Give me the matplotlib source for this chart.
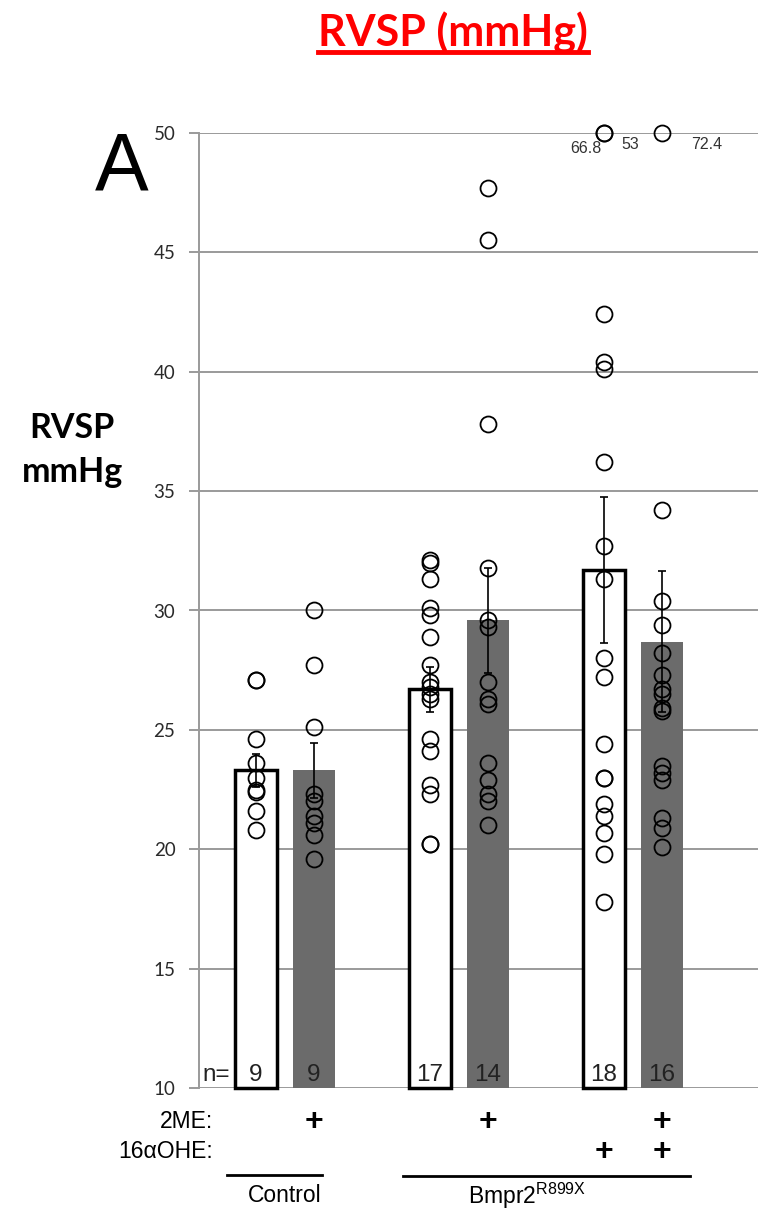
import matplotlib
matplotlib.use("Agg")
import matplotlib.pyplot as plt
from matplotlib.lines import Line2D

# ==== data ====
groups = ["Control", "Control+2ME", "Bmpr2", "Bmpr2+2ME", "Bmpr2+16aOHE", "Bmpr2+2ME+16aOHE"]
x_pos = [0, 1, 3, 4, 6, 7]
means = [23.3, 23.3, 26.7, 29.6, 31.7, 28.7]
sems = [0.7, 1.15, 0.95, 2.2, 3.05, 2.95]
n_counts = [9, 9, 17, 14, 18, 16]
filled = [False, True, False, True, False, True]

pts_ctrl = [27.1, 27.1, 24.6, 23.6, 23.0, 22.5, 22.4, 21.6, 20.8]
pts_ctrl_2me = [30.0, 27.7, 25.1, 22.3, 22.0, 21.4, 21.1, 20.6, 19.6]
pts_bmpr2 = [32.1, 32.0, 31.3, 30.1, 29.8, 28.9, 27.7, 27.0, 26.8, 26.5, 26.3,
             24.6, 24.1, 22.7, 22.3, 20.2, 20.2]
pts_bmpr2_2me = [47.7, 45.5, 37.8, 31.8, 29.6, 29.3, 27.0, 26.3, 26.1, 23.6,
                 22.9, 22.3, 22.0, 21.0]
pts_bmpr2_ohe = [66.8, 53.0, 42.4, 40.4, 40.1, 36.2, 32.7, 31.3, 28.0, 27.2,
                 24.4, 23.0, 23.0, 21.9, 21.4, 20.7, 19.8, 17.8]
pts_bmpr2_both = [72.4, 34.2, 30.4, 29.4, 28.2, 27.3, 26.7, 26.5, 25.9, 25.8,
                  23.5, 23.2, 22.9, 21.3, 20.9, 20.1]
points = [pts_ctrl, pts_ctrl_2me, pts_bmpr2, pts_bmpr2_2me, pts_bmpr2_ohe, pts_bmpr2_both]

y_ticks = [10, 15, 20, 25, 30, 35, 40, 45, 50]
me2 = [False, True, False, True, False, True]
ohe = [False, False, False, False, True, True]
y_max = 50

W, H = 758, 1209
fig = plt.figure(figsize=(W / 100, H / 100), dpi=100)
ax = fig.add_axes([199 / W, 1 - 1088 / H, (W - 199) / W, (1088 - 133) / H])
ax.set_xlim(-0.983, 8.66)
ax.set_ylim(10, y_max)

ax.set_axisbelow(True)
ax.yaxis.grid(True, color="#9a9a9a", linewidth=1.4)
for s in ["top", "right", "bottom"]:
    ax.spines[s].set_visible(False)
ax.spines["left"].set_color("#9a9a9a")
ax.spines["left"].set_linewidth(1.4)
ax.set_xticks([])
ax.set_yticks(y_ticks)
ax.tick_params(axis="y", length=7, width=1.4, color="#9a9a9a", pad=10,
               labelsize=13.5, labelcolor="#2a2a2a")
for lab in ax.get_yticklabels():
    lab.set_fontfamily("Lato")

# ==== bars ====
for x, m, f in zip(x_pos, means, filled):
    if f:
        ax.bar(x, m - 10, bottom=10, width=0.72, color="#6b6b6b", zorder=2, clip_on=False)
    else:
        ax.bar(x, m - 10, bottom=10, width=0.72, facecolor="white", edgecolor="black",
               linewidth=2.5, zorder=2, clip_on=False)

ax.errorbar(x_pos, means, yerr=sems, fmt="none", ecolor="black", elinewidth=1.2,
            capsize=3, capthick=1.2, zorder=3)

# ==== individual points (values above the axis are pinned at the top and labelled) ====
for x, vals in zip(x_pos, points):
    shown = [min(v, y_max) for v in vals]
    ax.plot([x] * len(shown), shown, "o", mfc="none", mec="black", mew=1.3, ms=11.5,
            zorder=4, clip_on=False)

over = [(x, v) for x, vals in zip(x_pos, points) for v in vals if v > y_max]
offsets = [(-13, -11), (19, -8), (32, -8)]
for (x, v), off in zip(over, offsets):
    ax.annotate(f"{v:g}", (x, y_max), xytext=off, textcoords="offset points",
                ha="center", va="center", fontsize=11.5, color="#333333",
                family="Liberation Sans")

# ==== n labels inside bars ====
ax.text(-0.92, 10.55, "n=", ha="left", va="center", fontsize=17.5, color="#222222",
        family="Liberation Sans")
for x, n in zip(x_pos, n_counts):
    ax.text(x, 10.55, str(n), ha="center", va="center", fontsize=17.5, color="#222222",
            family="Liberation Sans", zorder=5)

# ==== treatment rows below the axis ====
ax.text(-0.74, 8.58, "2ME:", ha="right", va="center", fontsize=16.5,
        family="Liberation Sans", clip_on=False)
ax.text(-0.74, 7.32, "16\u03b1OHE:", ha="right", va="center", fontsize=16.5,
        family="Liberation Sans", clip_on=False)
for x, a, b in zip(x_pos, me2, ohe):
    if a:
        ax.text(x, 8.58, "+", ha="center", va="center", fontsize=23, fontweight="bold",
                family="Liberation Sans", clip_on=False)
    if b:
        ax.text(x, 7.32, "+", ha="center", va="center", fontsize=23, fontweight="bold",
                family="Liberation Sans", clip_on=False)

ax.add_line(Line2D([-0.5, 1.14], [6.36, 6.36], color="black", lw=2, clip_on=False))
ax.add_line(Line2D([2.53, 7.48], [6.33, 6.33], color="black", lw=2, clip_on=False))
ax.text(0.5, 5.5, "Control", ha="center", va="center", fontsize=16.5,
        family="Liberation Sans", clip_on=False)
ax.text(4.67, 5.5, "Bmpr2$^{\\mathregular{R899X}}$", ha="center", va="center", fontsize=16.5,
        family="Liberation Sans", clip_on=False)

# ==== titles ====
t = fig.text(453 / W, 1 - 33 / H, "RVSP (mmHg)", ha="center", va="center", fontsize=31,
             fontweight="bold", color="red", family="Lato")
fig.text(122 / W, 1 - 190 / H, "A", ha="center", va="baseline", fontsize=58,
         family="Liberation Sans")
fig.text(72 / W, 1 - 450 / H, "RVSP\nmmHg", ha="center", va="center", fontsize=24.5,
         fontweight="bold", family="Lato", linespacing=1.45)

fig.canvas.draw()
bb = t.get_window_extent()
fig.add_artist(Line2D([bb.x0 / W, bb.x1 / W], [1 - 52 / H, 1 - 52 / H], color="red", lw=3.5))

fig.savefig("out.png", dpi=100)
